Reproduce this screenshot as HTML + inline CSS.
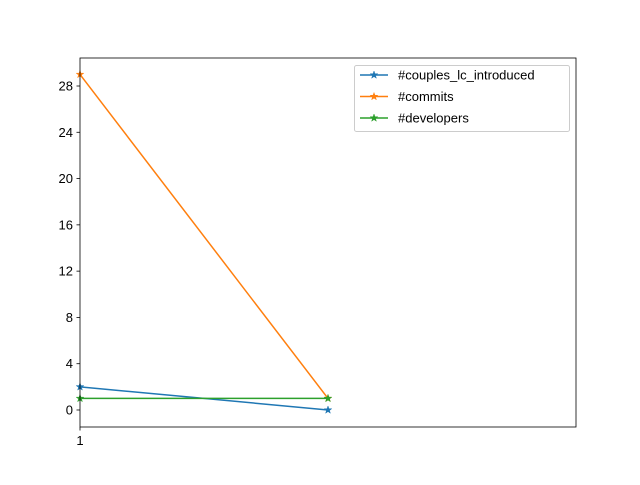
<!DOCTYPE html>
<html><head><meta charset="utf-8"><style>
body{margin:0;background:#fff;font-family:"Liberation Sans","DejaVu Sans",sans-serif}
</style></head><body>
<svg id="chart" width="640" height="480" xmlns="http://www.w3.org/2000/svg"></svg>
<script>
const categories = ["1", ""];
const couples = [2, 0];
const commits = [29, 1];
const developers = [1, 1];
const yTicks = [0, 4, 8, 12, 16, 20, 24, 28];
const seriesNames = ["#couples_lc_introduced", "#commits", "#developers"];
const colors = ["#1f77b4", "#ff7f0e", "#2ca02c"];

const L=80,R=576,T=58,B=427;
const yMin=-1.47,yMax=30.42,xMin=0,xMax=2;
const sx=i=>L+(i-xMin)/(xMax-xMin)*(R-L);
const sy=v=>B-(v-yMin)/(yMax-yMin)*(B-T);
const svg=document.getElementById('chart');
const NS="http://www.w3.org/2000/svg";
function mk(tag,attrs,parent){const e=document.createElementNS(NS,tag);for(const k in attrs)e.setAttribute(k,attrs[k]);(parent||svg).appendChild(e);return e;}
function star(cx,cy,r,color,parent){let p=[];for(let i=0;i<10;i++){const a=-Math.PI/2+i*Math.PI/5;const rr=i%2?r*0.4:r;p.push((cx+rr*Math.cos(a)).toFixed(2)+","+(cy+rr*Math.sin(a)).toFixed(2));}return mk('polygon',{points:p.join(' '),fill:color,stroke:color,'stroke-width':0.5},parent);}

yTicks.forEach(v=>{
  const g=mk('g',{});
  
  
  mk('line',{x1:L-3.5,x2:L,y1:sy(v),y2:sy(v),stroke:'#000','stroke-width':0.8},g);
  const t=mk('text',{x:L-7,y:sy(v)+4.5,'text-anchor':'end','font-size':13},g);t.textContent=v;
});
categories.forEach((c,i)=>{ if(!c)return;
  const g=mk('g',{});
  
  
  mk('line',{x1:sx(i),x2:sx(i),y1:B,y2:B+3.5,stroke:'#000','stroke-width':0.8},g);
  const t=mk('text',{x:sx(i),y:B+18,'text-anchor':'middle','font-size':13},g);t.textContent=c;
});

[couples,commits,developers].forEach((d,s)=>{
  const g=mk('g',{});
  
  
  mk('polyline',{points:d.map((v,i)=>sx(i)+','+sy(v)).join(' '),fill:'none',stroke:colors[s],'stroke-width':1.5},g);
  d.forEach((v,i)=>star(sx(i),sy(v),4,colors[s],g));
});

const frame=mk('rect',{x:L,y:T,width:R-L,height:B-T,fill:'none',stroke:'#000','stroke-width':0.8});



const lg=mk('g',{});


mk('rect',{x:354.5,y:65.5,width:215,height:66,rx:2,fill:'#fff','fill-opacity':0.8,stroke:'#ccc'},lg);
seriesNames.forEach((n,s)=>{
  const y=75+s*21.5;
  const e=mk('g',{},lg);
  
  
  mk('line',{x1:360,x2:388,y1:y,y2:y,stroke:colors[s],'stroke-width':1.5},e);
  star(374,y,4,colors[s],e);
  const t=mk('text',{x:398,y:y+4.5,'font-size':13},e);t.textContent=n;
});
</script>
</body></html>
